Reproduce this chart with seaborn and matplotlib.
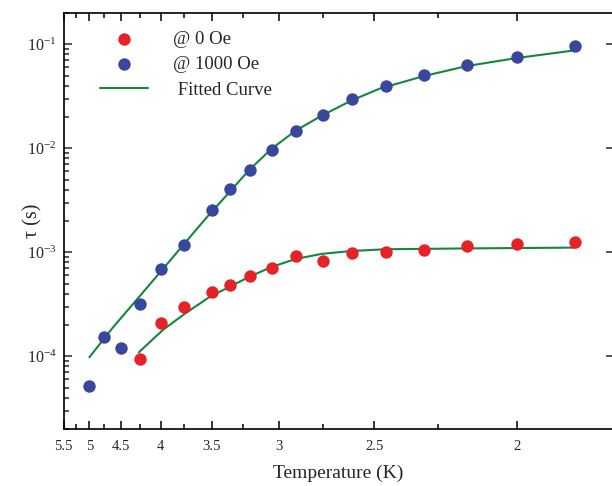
import numpy as np
import pandas as pd
import matplotlib
matplotlib.use("Agg")
import matplotlib.pyplot as plt
import seaborn as sns
from matplotlib.ticker import FixedLocator, FixedFormatter, LogLocator, LogFormatterMathtext, NullFormatter, NullLocator

temp_0oe = [4.25, 4.0, 3.75, 3.5, 3.35, 3.2, 3.05, 2.9, 2.75, 2.6, 2.45, 2.3, 2.15, 2.0, 1.85]
tau_0oe = [9.5e-5, 2.07e-4, 2.99e-4, 4.15e-4, 4.85e-4, 5.96e-4, 7.08e-4, 9.23e-4, 8.26e-4,
           9.86e-4, 1.016e-3, 1.047e-3, 1.16e-3, 1.19e-3, 1.25e-3]

temp_1000oe = [5.0, 4.75, 4.5, 4.25, 4.0, 3.75, 3.5, 3.35, 3.2, 3.05, 2.9, 2.75, 2.6, 2.45,
               2.3, 2.15, 2.0, 1.85]
tau_1000oe = [5.15e-5, 1.53e-4, 1.20e-4, 3.18e-4, 6.9e-4, 1.18e-3, 2.56e-3, 4.1e-3, 6.2e-3,
              9.7e-3, 1.48e-2, 2.11e-2, 2.95e-2, 3.94e-2, 5.02e-2, 6.27e-2, 7.5e-2, 9.57e-2]

# fitted curves
fit_temp_0oe = [4.262, 3.976, 3.75, 3.517, 3.201, 3.05, 2.9, 2.7545, 2.603, 2.451, 2.151, 1.849]
fit_tau_0oe = [1.09e-4, 1.79e-4, 2.55e-4, 3.72e-4, 5.83e-4, 7.23e-4, 8.63e-4, 9.66e-4,
               1.03e-3, 1.07e-3, 1.09e-3, 1.11e-3]

fit_temp_1000oe = [5.0, 4.626, 4.013, 3.561, 3.201, 3.05, 2.9, 2.7545, 2.603, 2.4765, 2.3,
                   2.151, 2.0, 1.849]
fit_tau_1000oe = [9.8e-5, 1.87e-4, 6.32e-4, 2.05e-3, 6.24e-3, 9.9e-3, 1.48e-2, 2.06e-2,
                  2.89e-2, 3.75e-2, 4.95e-2, 6.18e-2, 7.38e-2, 8.75e-2]

major_temps = [5.5, 5, 4.5, 4, 3.5, 3, 2.5, 2]
major_labels = ["5.5", "5", "4.5", "4", "3.5", "3", "2.5", "2"]
minor_temps = [5.25, 4.75, 4.25, 3.75, 3.25, 2.75, 2.25]

red = "#e62128"
blue = "#38469c"
green = "#13883c"

sns.set_style("ticks")
plt.rcParams["font.family"] = ["Liberation Serif", "DejaVu Serif"]
plt.rcParams["mathtext.fontset"] = "stix"

df0 = pd.DataFrame({"inv_t": 1 / np.array(temp_0oe), "tau": tau_0oe})
df1 = pd.DataFrame({"inv_t": 1 / np.array(temp_1000oe), "tau": tau_1000oe})
fit0 = pd.DataFrame({"inv_t": 1 / np.array(fit_temp_0oe), "tau": fit_tau_0oe})
fit1 = pd.DataFrame({"inv_t": 1 / np.array(fit_temp_1000oe), "tau": fit_tau_1000oe})

fig = plt.figure(figsize=(6.12, 4.86), dpi=100)
ax = fig.add_axes([63.5 / 612, 57 / 486, (612 - 63.5) / 612, 416 / 486])
ax.set_yscale("log")

sns.lineplot(data=fit0, x="inv_t", y="tau", ax=ax, color=green, lw=1.5,
             sort=False, estimator=None, label="_nolegend_", zorder=2)
sns.lineplot(data=fit1, x="inv_t", y="tau", ax=ax, color=green, lw=1.5,
             sort=False, estimator=None, label=" Fitted Curve", zorder=2)
sns.scatterplot(data=df0, x="inv_t", y="tau", ax=ax, color=red, s=80, linewidth=0,
                label="@ 0 Oe", zorder=3)
sns.scatterplot(data=df1, x="inv_t", y="tau", ax=ax, color=blue, s=80, linewidth=0,
                label="@ 1000 Oe", zorder=3)

ax.set_xlim(1 / 5.5, 0.2 + 522 / 1423)
ax.set_ylim(2e-5, 0.2)

ax.xaxis.set_major_locator(FixedLocator([1 / t for t in major_temps]))
ax.xaxis.set_major_formatter(FixedFormatter(major_labels))
ax.xaxis.set_minor_locator(FixedLocator([1 / t for t in minor_temps]))
ax.yaxis.set_major_locator(LogLocator(base=10, numticks=10))
ax.yaxis.set_major_formatter(LogFormatterMathtext())
ax.yaxis.set_minor_locator(LogLocator(base=10, subs=np.arange(2, 10), numticks=20))
ax.yaxis.set_minor_formatter(NullFormatter())

ax.tick_params(axis="x", which="both", direction="in", top=True, bottom=True,
               labelsize=10.5, pad=8, width=1.1, color="black")
ax.tick_params(axis="x", which="major", length=6)
ax.tick_params(axis="x", which="minor", length=3.5)
ax.tick_params(axis="y", which="both", direction="in", left=True, right=False,
               labelsize=11.5, pad=5, width=1.1)
ax.tick_params(axis="y", which="major", length=6)
ax.tick_params(axis="y", which="minor", length=3.5)

# right side: decade ticks only
ax2 = ax.twinx()
ax2.set_yscale("log")
ax2.set_ylim(ax.get_ylim())
ax2.yaxis.set_major_locator(LogLocator(base=10, numticks=10))
ax2.yaxis.set_minor_locator(NullLocator())
ax2.tick_params(axis="y", which="major", direction="in", length=4, width=1.1, labelright=False)
for side in ["top", "bottom", "left", "right"]:
    ax2.spines[side].set_visible(False)

for side in ["top", "bottom", "left"]:
    ax.spines[side].set_linewidth(1.2)
    ax.spines[side].set_color("black")
ax.spines["right"].set_visible(False)

ax.set_xlabel("Temperature (K)", fontsize=14, labelpad=8)
ax.set_ylabel("τ (s)", fontsize=14.5)
ax.yaxis.set_label_coords(-0.038, 0.5)

handles, labels = ax.get_legend_handles_labels()
order = [labels.index("@ 0 Oe"), labels.index("@ 1000 Oe"), labels.index(" Fitted Curve")]
ax.legend([handles[i] for i in order], [labels[i] for i in order],
          loc="upper left", bbox_to_anchor=(0.066, 0.958), frameon=False,
          fontsize=13.5, handlelength=2.6, handletextpad=1.3, labelspacing=0.45,
          borderpad=0, borderaxespad=0, markerscale=1.0)

fig.savefig("out.png", dpi=100)
